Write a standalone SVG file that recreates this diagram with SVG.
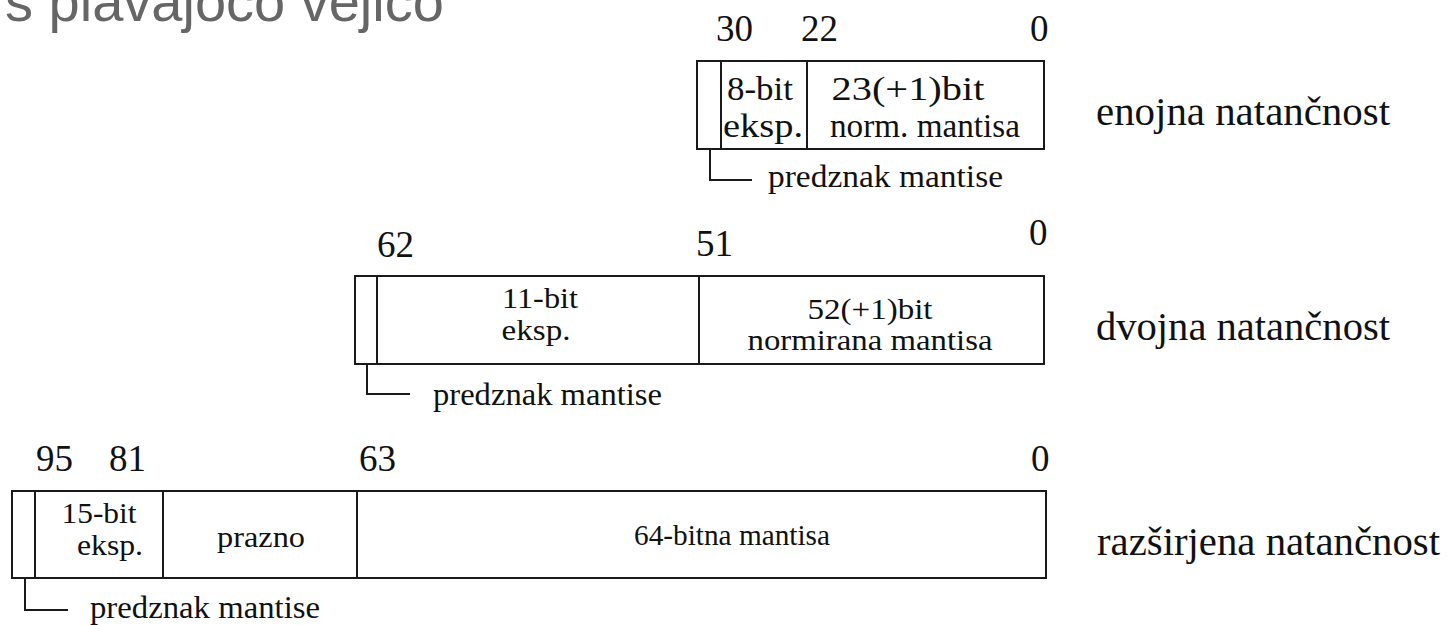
<svg xmlns="http://www.w3.org/2000/svg" width="1447" height="625" viewBox="0 0 1447 625">
  <style>
    .bg { fill: #ffffff; }
    .cell { fill: none; stroke: #1a1a1a; stroke-width: 2; }
    .div { stroke: #1a1a1a; stroke-width: 2; }
    .lead { fill: none; stroke: #1a1a1a; stroke-width: 2; }
    .t { font-family: "Liberation Serif", "Times New Roman", serif; fill: #111111; }
    .num { font-size: 37px; }
    .box1 { font-size: 34px; }
    .box2 { font-size: 29px; }
    .note { font-size: 32px; }
    .fmt { font-size: 39px; }
    .title { font-family: "Liberation Sans", Arial, sans-serif; font-size: 56px; fill: #666666; }
    .mid { text-anchor: middle; }
  </style>

  <rect class="bg" x="0" y="0" width="1447" height="625"/>

  <!-- slide heading, mostly above the visible area -->
  <text class="title" x="5" y="21">s plavajočo vejico</text>

  <!-- single precision: 32 bits -->
  <g id="single">
    <text class="t num" x="716" y="41">30</text>
    <text class="t num" x="801" y="41">22</text>
    <text class="t num" x="1030" y="41">0</text>
    <rect class="cell" x="697" y="61" width="347" height="88"/>
    <line class="div" x1="721" y1="61" x2="721" y2="149"/>
    <line class="div" x1="807" y1="61" x2="807" y2="149"/>
    <text class="t box1 mid" x="760" y="100" textLength="66" lengthAdjust="spacingAndGlyphs">8-bit</text>
    <text class="t box1 mid" x="763" y="137" textLength="80" lengthAdjust="spacingAndGlyphs">eksp.</text>
    <text class="t box1 mid" x="908" y="100" textLength="153" lengthAdjust="spacingAndGlyphs">23(+1)bit</text>
    <text class="t box1 mid" x="925" y="137" textLength="190" lengthAdjust="spacingAndGlyphs">norm. mantisa</text>
    <text class="t note" x="768" y="187" textLength="235" lengthAdjust="spacingAndGlyphs">predznak mantise</text>
    <text class="t fmt" x="1096" y="125" textLength="294" lengthAdjust="spacingAndGlyphs">enojna natančnost</text>
  </g>

  <!-- double precision: 64 bits -->
  <g id="double">
    <text class="t num" x="377" y="257">62</text>
    <text class="t num" x="696" y="256">51</text>
    <text class="t num" x="1029" y="245">0</text>
    <rect class="cell" x="355" y="276" width="689" height="88"/>
    <line class="div" x1="377" y1="276" x2="377" y2="364"/>
    <line class="div" x1="699" y1="276" x2="699" y2="364"/>
    <text class="t box2 mid" x="540" y="308" textLength="76" lengthAdjust="spacingAndGlyphs">11-bit</text>
    <text class="t box2 mid" x="536" y="340" textLength="69" lengthAdjust="spacingAndGlyphs">eksp.</text>
    <text class="t box2 mid" x="870" y="319" textLength="125" lengthAdjust="spacingAndGlyphs">52(+1)bit</text>
    <text class="t box2 mid" x="870" y="350" textLength="245" lengthAdjust="spacingAndGlyphs">normirana mantisa</text>
    <text class="t note" x="433" y="405" textLength="229" lengthAdjust="spacingAndGlyphs">predznak mantise</text>
    <text class="t fmt" x="1096" y="340" textLength="294" lengthAdjust="spacingAndGlyphs">dvojna natančnost</text>
  </g>

  <!-- extended precision: 80 bits in a 96-bit field -->
  <g id="extended">
    <text class="t num" x="36" y="471">95</text>
    <text class="t num" x="109" y="471">81</text>
    <text class="t num" x="359" y="471">63</text>
    <text class="t num" x="1031" y="471">0</text>
    <rect class="cell" x="12" y="491" width="1034" height="87"/>
    <line class="div" x1="35" y1="491" x2="35" y2="578"/>
    <line class="div" x1="163" y1="491" x2="163" y2="578"/>
    <line class="div" x1="357" y1="491" x2="357" y2="578"/>
    <text class="t box2 mid" x="99" y="523" textLength="75" lengthAdjust="spacingAndGlyphs">15-bit</text>
    <text class="t box2 mid" x="110" y="555" textLength="66" lengthAdjust="spacingAndGlyphs">eksp.</text>
    <text class="t box2 mid" x="261" y="547" textLength="88" lengthAdjust="spacingAndGlyphs">prazno</text>
    <text class="t box2 mid" x="732" y="545" textLength="196" lengthAdjust="spacingAndGlyphs">64-bitna mantisa</text>
    <text class="t note" x="90" y="618" textLength="230" lengthAdjust="spacingAndGlyphs">predznak mantise</text>
    <text class="t fmt" x="1097" y="555" textLength="343" lengthAdjust="spacingAndGlyphs">razširjena natančnost</text>
  </g>

  <!-- leader lines from the sign bit to its caption -->
  <g id="connectors">
    <path class="lead" d="M710 149 V180 H752"/>
    <path class="lead" d="M367 364 V394 H410"/>
    <path class="lead" d="M25 578 V610 H68"/>
  </g>
</svg>
